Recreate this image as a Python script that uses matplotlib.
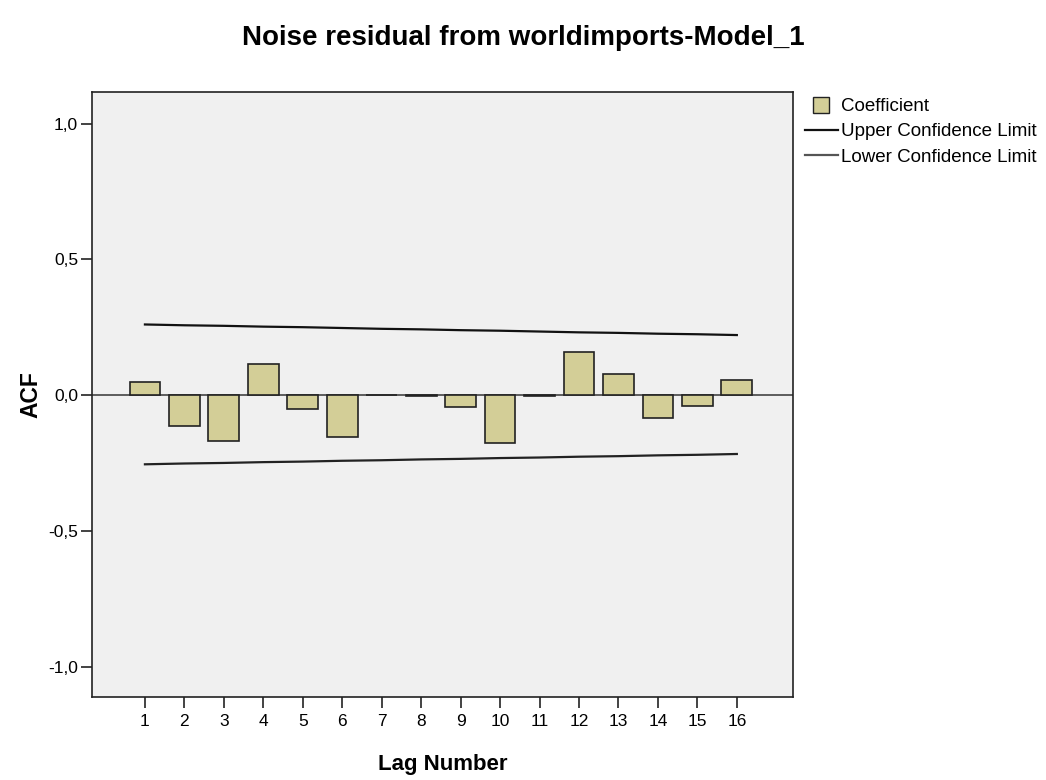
import numpy as np
import matplotlib.pyplot as plt
from matplotlib.lines import Line2D

plt.rcParams['font.family'] = ['Liberation Sans', 'DejaVu Sans']

lags = list(range(1, 17))
acf = [0.049, -0.114, -0.168, 0.113, -0.050, -0.156, 0.002, -0.002,
       -0.045, -0.178, -0.005, 0.158, 0.078, -0.085, -0.039, 0.056]
upper = [0.260, 0.257, 0.255, 0.252, 0.250, 0.247, 0.244, 0.242,
         0.239, 0.237, 0.234, 0.231, 0.229, 0.226, 0.224, 0.221]
lower = [-0.255, -0.252, -0.250, -0.247, -0.245, -0.242, -0.240, -0.237,
         -0.235, -0.232, -0.230, -0.227, -0.225, -0.222, -0.220, -0.217]

fig = plt.figure(figsize=(10.46, 7.8), dpi=100)
ax = fig.add_axes([0.088, 0.1064, 0.67, 0.7756])
ax.set_facecolor("#f0f0f0")

ax.axhline(0, color="#444444", lw=1.2, zorder=1)
ax.bar(lags, acf, width=0.78, color="#d3ce97", edgecolor="#222222",
       lw=1.2, zorder=2)
ax.plot(lags, upper, color="#111111", lw=1.6, zorder=3)
ax.plot(lags, lower, color="#222222", lw=1.6, zorder=3)

ax.set_xlim(-0.34, 17.42)
ax.set_ylim(-1.112, 1.116)
ax.set_xticks(lags)
ax.set_xticklabels([str(l) for l in lags], fontsize=12.5)
ax.set_yticks([-1.0, -0.5, 0.0, 0.5, 1.0])
ax.set_yticklabels(["-1,0", "-0,5", "0,0", "0,5", "1,0"], fontsize=12.5)
ax.tick_params(direction="out", length=8, width=1.2, color="#222222", pad=2)
ax.tick_params(axis="x", pad=4)
for s in ax.spines.values():
    s.set_color("#222222")
    s.set_linewidth(1.2)

ax.set_xlabel("Lag Number", fontsize=16, fontweight="bold", labelpad=18)
ax.set_ylabel("ACF", fontsize=16.5, fontweight="bold", labelpad=4)
fig.text(0.5, 1 - 38 / 780, "Noise residual from worldimports-Model_1",
         ha="center", va="center", fontsize=20, fontweight="bold")

handles = [
    Line2D([0], [0], marker="s", markersize=12, markerfacecolor="#d3ce97",
           markeredgecolor="#222222", linestyle="", label="Coefficient"),
    Line2D([0], [0], color="#111111", lw=1.6, label="Upper Confidence Limit"),
    Line2D([0], [0], color="#555555", lw=1.6, label="Lower Confidence Limit"),
]
leg = fig.legend(handles=handles, loc="upper left", bbox_to_anchor=(0.762, 0.884),
                 frameon=False, fontsize=13.5, handlelength=1.8, handletextpad=0.15,
                 labelspacing=0.44, borderaxespad=0)

fig.savefig("out.png", dpi=100, facecolor="white")
